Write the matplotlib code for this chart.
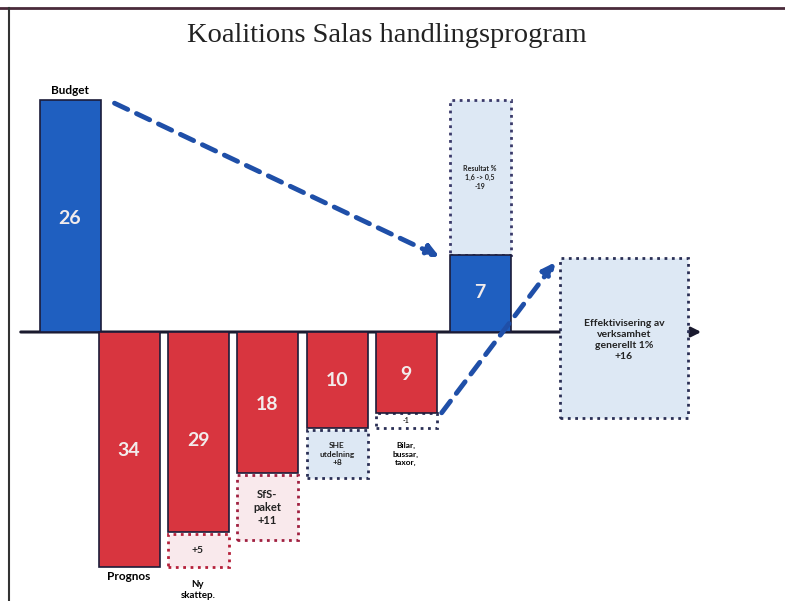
import matplotlib
matplotlib.use("Agg")
import matplotlib.pyplot as plt
from matplotlib.patches import Rectangle, FancyArrowPatch

# bars, left to right (x centre / drawn extent, baseline = 0)
names = ["Budget", "Prognos", "Ny skattep.", "SfS-paket", "SHE utdelning", "Bilar", "Resultat"]
values = ["26", "34", "29", "18", "10", "9", "7"]
centres = [70, 129, 198, 267, 337, 406, 480]
drawn = [232, -235, -200, -141, -96, -81, 77]
colours = ["#1f5fc0", "#d8353f", "#d8353f", "#d8353f", "#d8353f", "#d8353f", "#1f5fc0"]
value_pos = [114, -118, -108, -73, -48, -43, 39]

# dotted "change" boxes hanging on the bars: (bar index, bottom, top, text, fill, edge)
box_bar = [2, 3, 4, 5, 6]
box_lo = [-235, -208, -146, -96, 77]
box_hi = [-202, -143, -98, -81, 232]
box_text = ["+5", "SfS-\npaket\n+11", "SHE\nutdelning\n+8", "-1", "Resultat %\n1,6 -> 0,5\n-19"]
box_fill = ["#f9e9ec", "#f9e9ec", "#dde8f4", "#ffffff", "#dde8f4"]
box_edge = ["#b5203a", "#a02040", "#2a2f55", "#2a2f55", "#3a3a6a"]
box_fs = [7.5, 8, 6, 5, 5]

bar_w = 61

fig = plt.figure(figsize=(7.85, 6.01), dpi=100)
ax = fig.add_axes([0, 0, 1, 1])
ax.set_xlim(0, 785)
ax.set_ylim(-269, 332)
ax.axis("off")

font = "Lato"

# frame of the slide
ax.plot([0, 785], [324, 324], color="#4a2a3a", lw=2)
ax.plot([9, 9], [324, -269], color="#333333", lw=1.5)

ax.text(387, 296, "Koalitions Salas handlingsprogram", ha="center", va="center",
        fontsize=20.5, family="Liberation Serif", color="#222222")

# baseline arrow
ax.add_patch(FancyArrowPatch((18, 0), (704, 0), arrowstyle="-|>", mutation_scale=14,
                             color="#1a1a2e", lw=2.2, zorder=2))

# effektivisering box
ax.add_patch(Rectangle((560, -86), 128, 160, facecolor="#dde8f4", edgecolor="#2a2f55",
                       lw=2, ls=":", zorder=3))
ax.text(624, -8, "Effektivisering av\nverksamhet\ngenerellt 1%\n+16", ha="center", va="center",
        fontsize=7.5, fontweight="bold", family=font, color="#222222", linespacing=1.3, zorder=4)

for c, h, col, v, vp in zip(centres, drawn, colours, values, value_pos):
    ax.bar(c, h, width=bar_w, color=col, edgecolor="#1c1c3a", lw=1.2, zorder=3)
    ax.text(c, vp, v, ha="center", va="center", fontsize=14, fontweight="bold",
            family=font, color="#f2ecec", zorder=4)

for b, lo, hi, t, fc, ec, fs in zip(box_bar, box_lo, box_hi, box_text, box_fill, box_edge, box_fs):
    ax.add_patch(Rectangle((centres[b] - bar_w / 2, lo), bar_w, hi - lo, facecolor=fc,
                           edgecolor=ec, lw=2, ls=":", zorder=2))
    ax.text(centres[b], (lo + hi) / 2, t, ha="center", va="center", fontsize=fs,
            fontweight="bold", family=font, color="#222222", linespacing=1.25, zorder=4)

# labels outside bars
ax.text(70, 241, "Budget", ha="center", va="center", fontsize=8.5, fontweight="bold", family=font)
ax.text(129, -245, "Prognos", ha="center", va="center", fontsize=8.5, fontweight="bold", family=font)
ax.text(198, -258, "Ny\nskattep.", ha="center", va="center", fontsize=7, fontweight="bold",
        family=font, linespacing=1.4)
ax.text(406, -122, "Bilar,\nbussar,\ntaxor,", ha="center", va="center", fontsize=6,
        fontweight="bold", family=font, linespacing=1.3)

# dashed blue arrows
for start, end in [((112, 230), (442, 74)), ((440, -83), (557, 72))]:
    ax.add_patch(FancyArrowPatch(start, end, arrowstyle="-|>", mutation_scale=18,
                                 color="#1f4fa8", lw=3.5, ls=(0, (3, 2)), zorder=5))

fig.savefig("out.png", dpi=100)
